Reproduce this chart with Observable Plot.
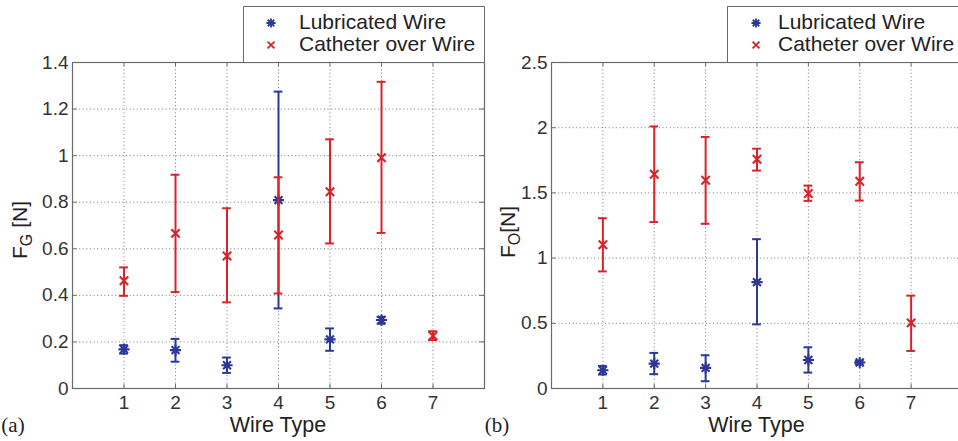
<!DOCTYPE html>
<html><head><meta charset="utf-8">
<script src="https://cdn.jsdelivr.net/npm/d3@7"></script>
<script src="https://cdn.jsdelivr.net/npm/@observablehq/plot@0.6"></script>
<style>
html,body{margin:0;padding:0;background:#fff;overflow:hidden;}
#wrap{position:relative;width:958px;height:441px;overflow:hidden;background:#fff;font-family:"Liberation Sans",Arial,sans-serif;}
.panel{position:absolute;top:0;}
.legend{position:absolute;top:6px;height:57px;border:1px solid #6a6a6a;background:#fff;box-sizing:border-box;}
.legend .item{position:absolute;font-size:21px;color:#222;line-height:22px;white-space:nowrap;}
.legend svg{position:absolute;}
</style>
</head><body>
<div id="wrap"></div>
<script>
// ---- data ----
const wireTypes = [1, 2, 3, 4, 5, 6, 7];
const xTicks = [1, 2, 3, 4, 5, 6, 7];
const seriesNames = ["Lubricated Wire", "Catheter over Wire"];

// Panel (a): F_G [N]
const fgTicks = [0, 0.2, 0.4, 0.6, 0.8, 1, 1.2, 1.4];
const fgLubMean = [0.168, 0.165, 0.100, 0.809, 0.211, 0.294, null];
const fgLubLow  = [0.150, 0.115, 0.067, 0.344, 0.162, 0.278, null];
const fgLubHigh = [0.186, 0.213, 0.133, 1.275, 0.258, 0.308, null];
const fgCathMean = [0.463, 0.666, 0.569, 0.659, 0.845, 0.991, 0.226];
const fgCathLow  = [0.398, 0.414, 0.370, 0.408, 0.623, 0.668, 0.208];
const fgCathHigh = [0.520, 0.918, 0.774, 0.907, 1.070, 1.317, 0.246];

// Panel (b): F_O [N]
const foTicks = [0, 0.5, 1, 1.5, 2, 2.5];
const foLubMean = [0.140, 0.191, 0.158, 0.816, 0.219, 0.199, null];
const foLubLow  = [0.107, 0.110, 0.056, 0.492, 0.122, 0.186, null];
const foLubHigh = [0.173, 0.273, 0.255, 1.145, 0.316, 0.212, null];
const foCathMean = [1.102, 1.643, 1.597, 1.758, 1.495, 1.589, 0.503];
const foCathLow  = [0.898, 1.276, 1.263, 1.671, 1.439, 1.441, 0.288];
const foCathHigh = [1.306, 2.010, 1.929, 1.839, 1.556, 1.735, 0.712];

const BLUE = "#2b3896";
const RED = "#d8232a";
const AXIS = "#6a6a6a";
const GRID = "#7a7a7a";

// custom marker symbols
const star8 = {draw(ctx, size) {
  const r = Math.sqrt(size / Math.PI);
  for (let k = 0; k < 4; k++) {
    const a = k * Math.PI / 4, c = Math.cos(a) * r, s = Math.sin(a) * r;
    ctx.moveTo(c, s); ctx.lineTo(-c, -s);
  }
}};
const cross = {draw(ctx, size) {
  const r = Math.sqrt(size / Math.PI) * 0.75;
  ctx.moveTo(-r, -r); ctx.lineTo(r, r);
  ctx.moveTo(-r, r); ctx.lineTo(r, -r);
}};

function rows(mean, low, high) {
  return wireTypes.map((w, i) => ({x: w, y: mean[i], lo: low[i], hi: high[i]})).filter(d => d.y != null);
}

function seriesMarks(data, color, symbol) {
  const cap = 0.085;
  return [
    Plot.ruleX(data, {x: "x", y1: "lo", y2: "hi", stroke: color, strokeWidth: 2}),
    Plot.ruleY(data, {y: "lo", x1: d => d.x - cap, x2: d => d.x + cap, stroke: color, strokeWidth: 2}),
    Plot.ruleY(data, {y: "hi", x1: d => d.x - cap, x2: d => d.x + cap, stroke: color, strokeWidth: 2}),
    Plot.dot(data, {x: "x", y: "y", symbol, r: 5.6, stroke: color, strokeWidth: 2.1, fill: "none"})
  ];
}

function makePanel(opts) {
  const {left, mLeft, mRight, yTicks, lub, cath, sub, suffix, letter, labelX, labelY, letterX} = opts;
  const width = 490, height = 441;
  const yMax = yTicks[yTicks.length - 1];
  const xMin = 0, xMax = 8;
  const plot = Plot.plot({
    width, height,
    marginLeft: mLeft, marginRight: mRight, marginTop: 62, marginBottom: 53,
    style: {background: "transparent", fontFamily: '"Liberation Sans", Arial, sans-serif', fontSize: "19px", color: "#333", overflow: "visible"},
    x: {domain: [xMin, xMax], ticks: xTicks, tickSize: 0, tickPadding: 7, tickFormat: d => String(d), label: null},
    y: {domain: [0, yMax], ticks: yTicks, tickSize: 0, tickPadding: 4, tickFormat: d => String(d), label: null},
    marks: [
      Plot.ruleY(yTicks.slice(1, -1), {stroke: GRID, strokeOpacity: 1, strokeWidth: 1, strokeDasharray: "1,2.6"}),
      Plot.ruleX(xTicks, {stroke: GRID, strokeOpacity: 1, strokeWidth: 1, strokeDasharray: "1,2.6"}),
      Plot.ruleY(yTicks, {x1: xMin, x2: xMin + 0.09, stroke: AXIS}),
      Plot.ruleY(yTicks, {x1: xMax - 0.09, x2: xMax, stroke: AXIS}),
      Plot.ruleX(xTicks, {y1: 0, y2: yMax * 0.013, stroke: AXIS}),
      Plot.ruleX(xTicks, {y1: yMax * 0.987, y2: yMax, stroke: AXIS}),
      Plot.frame({stroke: AXIS, strokeWidth: 1.2}),
      ...seriesMarks(lub, BLUE, star8),
      ...seriesMarks(cath, RED, cross)
    ]
  });
  plot.classList.add("panel");
  plot.style.left = left + "px";
  const svg = d3.select(plot);
  // x label
  const xs = mLeft + (width - mLeft - mRight) / 2;
  svg.append("text").attr("x", xs).attr("y", 432).attr("text-anchor", "middle")
    .attr("font-size", 21.5).attr("fill", "#222").text("Wire Type");
  // y label with subscript
  const t = svg.append("text").attr("transform", `translate(${labelX},${labelY}) rotate(-90)`)
    .attr("text-anchor", "middle").attr("font-size", 21).attr("fill", "#222");
  t.append("tspan").text("F");
  t.append("tspan").attr("dy", 5).attr("font-size", 16).text(sub);
  t.append("tspan").attr("dy", -5).text(suffix);
  // panel letter
  svg.append("text").attr("x", letterX).attr("y", 432).attr("font-family", '"Liberation Serif", "Times New Roman", serif')
    .attr("font-size", 21).attr("fill", "#222").text(letter);
  return plot;
}

function makeLegend(left, width, markerX, textX) {
  const box = document.createElement("div");
  box.className = "legend";
  box.style.left = left + "px";
  box.style.width = width + "px";
  const colors = [BLUE, RED];
  const syms = [star8, cross];
  seriesNames.forEach((name, i) => {
    const cy = 16 + i * 22;
    const s = d3.create("svg").attr("width", 16).attr("height", 16)
      .style("left", (markerX - 8) + "px").style("top", (cy - 8) + "px");
    const p = d3.path();
    syms[i].draw(p, Math.PI * 4.6 * 4.6);
    s.append("path").attr("transform", "translate(8,8)").attr("d", p.toString())
      .attr("stroke", colors[i]).attr("stroke-width", 1.8).attr("fill", "none");
    box.appendChild(s.node());
    const item = document.createElement("div");
    item.className = "item";
    item.style.left = textX + "px";
    item.style.top = (cy - 12) + "px";
    item.textContent = name;
    box.appendChild(item);
  });
  return box;
}

const wrap = document.getElementById("wrap");
wrap.appendChild(makePanel({
  left: 0, mLeft: 72, mRight: 6, yTicks: fgTicks,
  lub: rows(fgLubMean, fgLubLow, fgLubHigh), cath: rows(fgCathMean, fgCathLow, fgCathHigh),
  sub: "G", suffix: " [N]", letter: "(a)", labelX: 27, labelY: 230, letterX: 13
}));
wrap.appendChild(makePanel({
  left: 480, mLeft: 71, mRight: 8, yTicks: foTicks,
  lub: rows(foLubMean, foLubLow, foLubHigh), cath: rows(foCathMean, foCathLow, foCathHigh),
  sub: "O", suffix: "[N]", letter: "(b)", labelX: 35, labelY: 232, letterX: 17
}));
wrap.appendChild(makeLegend(243, 242, 27, 55));
wrap.appendChild(makeLegend(727, 300, 28, 50));
</script>
</body></html>
